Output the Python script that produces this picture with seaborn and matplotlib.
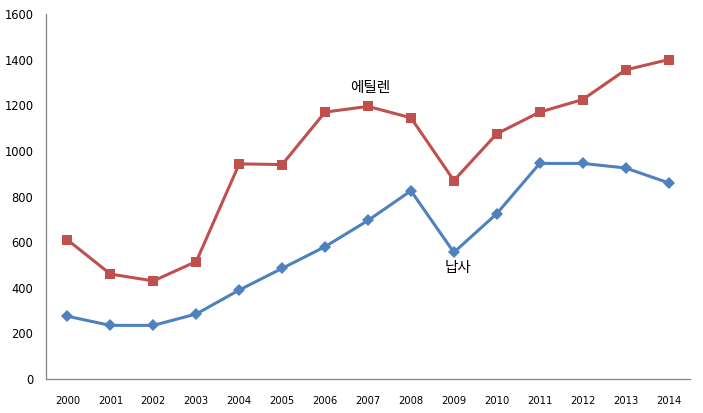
import matplotlib
matplotlib.use("Agg")
import matplotlib.pyplot as plt
import seaborn as sns
import pandas as pd
import numpy as np
from matplotlib.ticker import FixedLocator

years = ["2000", "2001", "2002", "2003", "2004", "2005", "2006", "2007",
         "2008", "2009", "2010", "2011", "2012", "2013", "2014"]
ethylene = [610, 460, 430, 515, 943, 940, 1170, 1195, 1145, 870, 1075, 1170, 1225, 1355, 1400]
naphtha = [275, 235, 235, 285, 390, 485, 580, 695, 825, 555, 725, 945, 945, 925, 860]
ethylene_label = "에틸렌"
naphtha_label = "납사"

sns.set_style("white")
plt.rcParams['font.family'] = ['Noto Sans CJK KR', 'DejaVu Sans']

idx = np.arange(len(years))
df_e = pd.DataFrame({"x": idx, "y": ethylene})
df_n = pd.DataFrame({"x": idx, "y": naphtha})

fig = plt.figure(figsize=(7.03, 4.13), dpi=100)
ax = fig.add_axes([46/703, (413-379)/413, (690-46)/703, (379-14)/413])

red = "#C0504D"
blue = "#4F81BD"
sns.lineplot(data=df_e, x="x", y="y", ax=ax, color=red, linewidth=2.2,
             marker="s", markersize=7, markeredgewidth=0, markerfacecolor=red)
sns.lineplot(data=df_n, x="x", y="y", ax=ax, color=blue, linewidth=2.2,
             marker="D", markersize=6, markeredgewidth=0, markerfacecolor=blue)

ax.set_xlim(-0.5, len(years) - 0.5)
ax.set_ylim(0, 1600)
ax.set_yticks(range(0, 1601, 200))
ax.set_yticklabels([str(v) for v in range(0, 1601, 200)], family=['DejaVu Sans'], fontsize=8.3)
ax.set_xticks(idx)
ax.set_xticklabels(years, family=['DejaVu Sans'], fontsize=7.2)
ax.xaxis.set_minor_locator(FixedLocator(np.arange(-0.5, len(years), 1.0)))
ax.tick_params(axis='x', which='major', length=0, pad=12, colors='black')
ax.tick_params(axis='x', which='minor', length=5, width=0.8, color='#868686', direction='out')
ax.tick_params(axis='y', which='major', length=5, width=0.8, color='#868686', direction='out', pad=4, labelcolor='black')
ax.set_xlabel("")
ax.set_ylabel("")

for s in ['top', 'right']:
    ax.spines[s].set_visible(False)
for s in ['left', 'bottom']:
    ax.spines[s].set_color('#868686')
    ax.spines[s].set_linewidth(0.9)

ax.text(7.06, 1276, ethylene_label, ha='center', va='center', fontsize=10.5, color='black')
ax.text(9.09, 487, naphtha_label, ha='center', va='center', fontsize=10.5, color='black')

fig.savefig("out.png", dpi=100)
